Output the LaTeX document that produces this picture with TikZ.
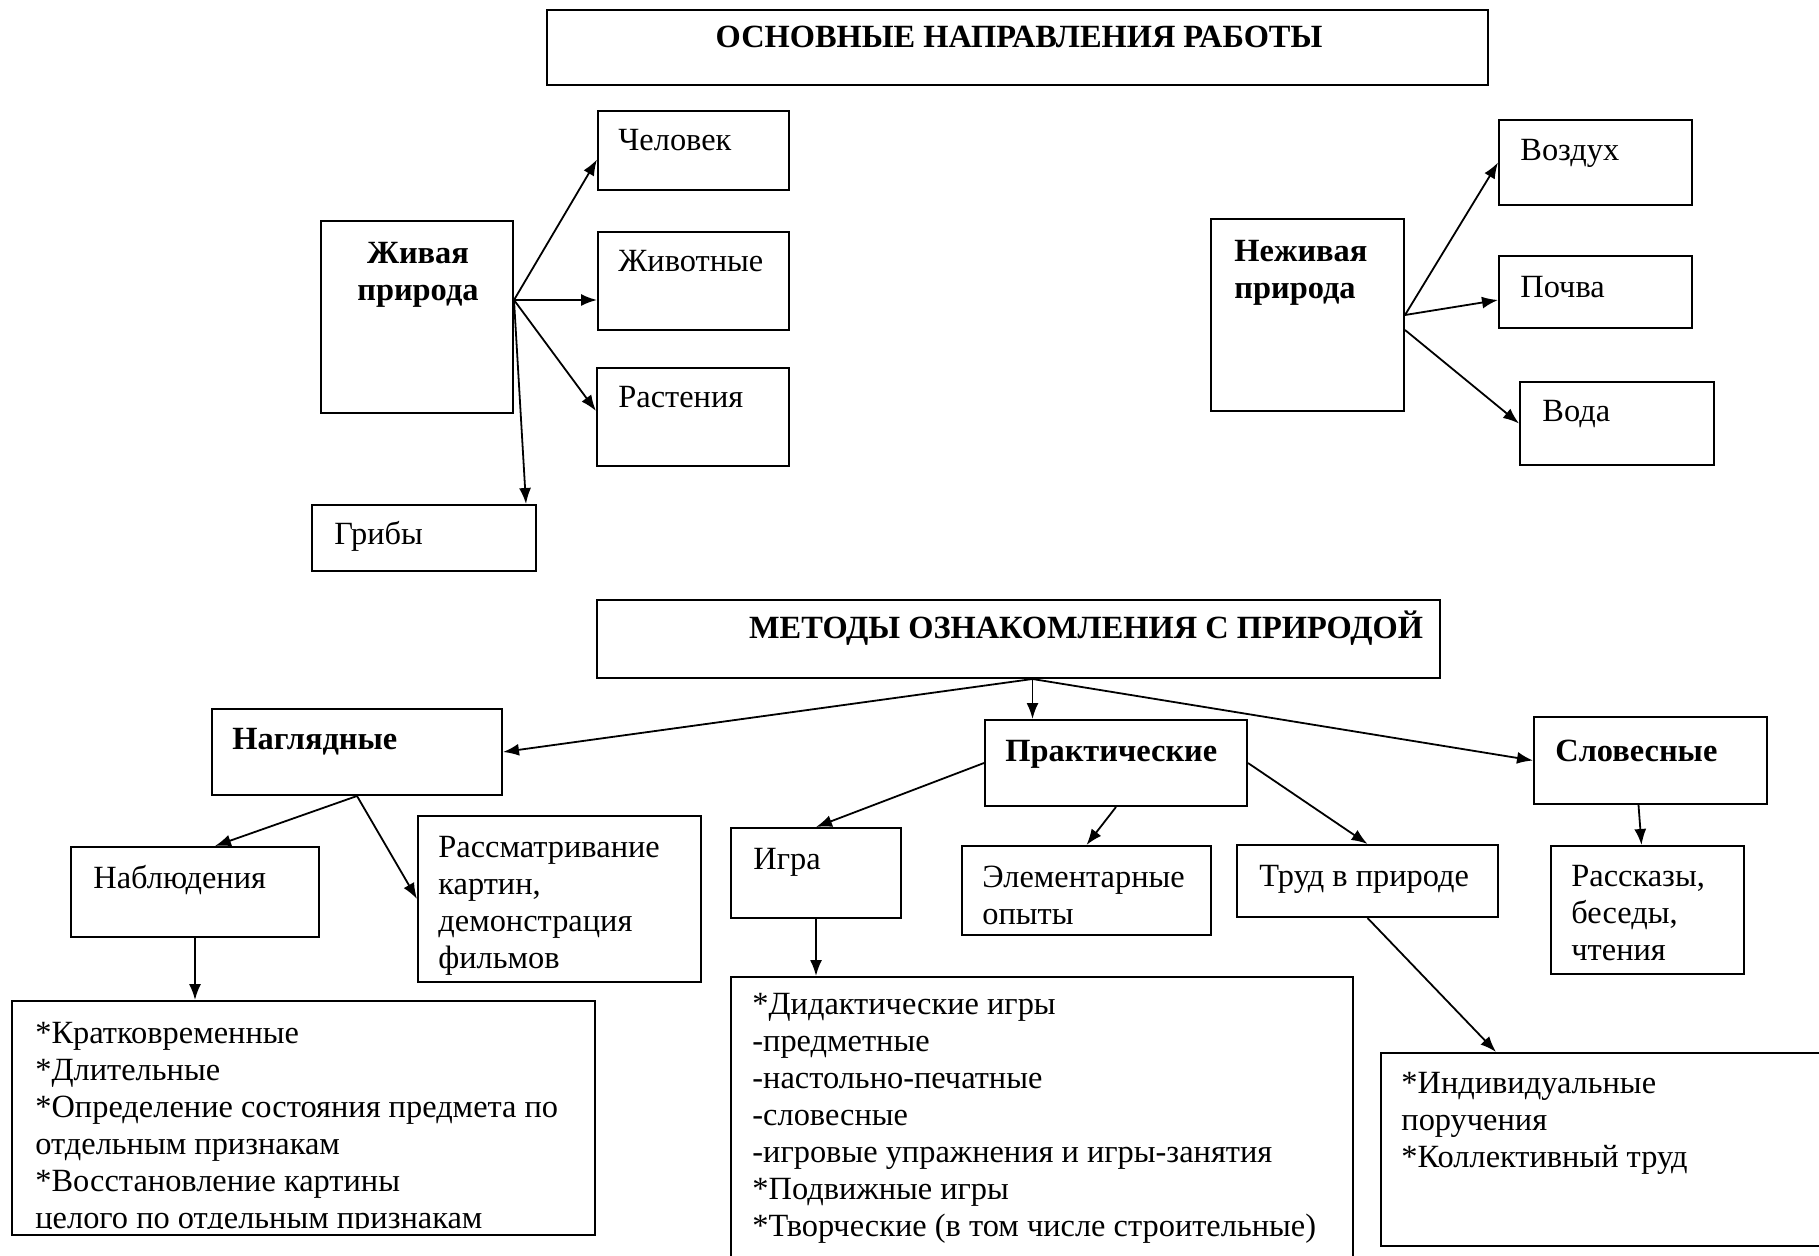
\documentclass[tikz,border=0pt]{standalone}
\usepackage{fontspec}
\setmainfont{Liberation Serif}
\usetikzlibrary{arrows.meta,fit,calc}

\tikzset{
  frame/.style={draw, line width=1pt, inner sep=0pt, fit={#1}},
  txt/.style={anchor=base west, align=left, inner sep=0pt,
    font=\fontsize{16.2}{18.5}\selectfont},
  head/.style={txt, font=\fontsize{16.2}{18.5}\selectfont\bfseries},
  arr/.style={-{Latex[length=8pt,width=6pt]}, line width=0.9pt}
}

\begin{document}
\begin{tikzpicture}[x=0.5pt, y=-0.5pt]
    \useasboundingbox (0,0) rectangle (1819,1256);
    \fill[white] (0,0) rectangle (1819,1256);
    \clip (0,0) rectangle (1819,1256);

    % Directions %
    \node[frame={(547,10) (1488,85)}] (osn) {};
    \node[head, anchor=base] (osn-t) at (1019,48) {ОСНОВНЫЕ НАПРАВЛЕНИЯ РАБОТЫ};

    \node[frame={(321,221) (513,413)}] (zhiv) {};
    \node[head, align=center, anchor=base] (zhiv-t) at (418,301) {Живая\\природа};
    \node[frame={(598,111) (789,190)}] (chel) {};
    \node[txt] (chel-t) at (618,151) {Человек};
    \node[frame={(598,232) (789,330)}] (zhivot) {};
    \node[txt] (zhivot-t) at (618,272) {Животные};
    \node[frame={(597,368) (789,466)}] (rast) {};
    \node[txt] (rast-t) at (618,408) {Растения};
    \node[frame={(312,505) (536,571)}] (griby) {};
    \node[txt] (griby-t) at (334,545) {Грибы};

    \node[frame={(1211,219) (1404,411)}] (nezhiv) {};
    \node[head] (nezhiv-t) at (1234,299) {Неживая\\природа};
    \node[frame={(1499,120) (1692,205)}] (vozduh) {};
    \node[txt] (vozduh-t) at (1520,161) {Воздух};
    \node[frame={(1499,256) (1692,328)}] (pochva) {};
    \node[txt] (pochva-t) at (1520,298) {Почва};
    \node[frame={(1520,382) (1714,465)}] (voda) {};
    \node[txt] (voda-t) at (1542,422) {Вода};

    \coordinate (zhivout) at ([yshift=8.5pt]zhiv.east);
    \draw[arr] (zhivout) -- ([yshift=-4.5pt]chel.west);
    \draw[arr] (zhivout) -- (zhivot.west |- zhivout);
    \draw[arr] (zhivout) -- ([yshift=3pt]rast.west);
    \draw[arr] (zhivout) -- ([xshift=-5.5pt]griby.north east);
    \draw[arr] (nezhiv.east) -- (vozduh.west);
    \draw[arr] (nezhiv.east) -- ([yshift=-4pt]pochva.west);
    \draw[arr] ([yshift=-7.5pt]nezhiv.east) -- (voda.west);

    % Methods %
    \node[frame={(597,600) (1440,678)}] (metody) {};
    \node[head, anchor=base] (metody-t) at (1086,638) {МЕТОДЫ ОЗНАКОМЛЕНИЯ С ПРИРОДОЙ};

    \node[frame={(212,709) (502,795)}] (naglyad) {};
    \node[head] (naglyad-t) at (232,749) {Наглядные};
    \node[frame={(985,720) (1247,806)}] (prakt) {};
    \node[head] (prakt-t) at (1005,761) {Практические};
    \node[frame={(1534,717) (1767,804)}] (slovesn) {};
    \node[head] (slovesn-t) at (1555,761) {Словесные};

    \node[frame={(71,847) (319,937)}] (nabl) {};
    \node[txt] (nabl-t) at (93,888) {Наблюдения};
    \node[frame={(418,816) (701,982)}] (rassm) {};
    \node[txt] (rassm-t) at (438,968) {Рассматривание\\картин,\\демонстрация\\фильмов};
    \node[frame={(12,1001) (595,1235)}] (kratko) {};
    \begin{scope}
        \clip (kratko.north west) rectangle ([yshift=4pt]kratko.south east);
        \node[txt] (kratko-t) at (35,1228) {*Кратковременные\\*Длительные\\*Определение состояния предмета по\\отдельным признакам\\*Восстановление картины\\целого по отдельным признакам};
    \end{scope}

    \node[frame={(731,828) (901,918)}] (igra) {};
    \node[txt] (igra-t) at (753,869) {Игра};
    \node[frame={(962,846) (1211,935)}] (element) {};
    \node[txt] (element-t) at (982,924) {Элементарные\\опыты};
    \node[frame={(1237,845) (1498,917)}] (trud) {};
    \node[txt] (trud-t) at (1259,886) {Труд в природе};
    \node[frame={(1551,846) (1744,974)}] (rasskaz) {};
    \node[txt] (rasskaz-t) at (1571,960) {Рассказы,\\беседы,\\чтения};
    \node[frame={(731,977) (1353,1300)}] (didakt) {};
    \node[txt] (didakt-t) at (752,1236) {*Дидактические игры\\-предметные\\-настольно-печатные\\-словесные\\-игровые упражнения и игры-занятия\\*Подвижные игры\\*Творческие (в том числе строительные)};
    \node[frame={(1381,1053) (1900,1246)}] (indiv) {};
    \node[txt] (indiv-t) at (1401,1167) {*Индивидуальные\\поручения\\*Коллективный труд};

    \coordinate (metout) at ([xshift=7pt]metody.south);
    \draw[arr] (metout) -- (naglyad.east);
    \draw[arr] (metout) -- (metout |- prakt.north);
    \draw[arr] (metout) -- (slovesn.west);
    \draw[arr] (naglyad.south) -- ([xshift=10pt]nabl.north);
    \draw[arr] (naglyad.south) -- (rassm.west);
    \draw[arr] (nabl.south) -- (nabl.south |- kratko.north);
    \draw[arr] (prakt.west) -- (igra.north);
    \draw[arr] (prakt.south) -- (element.north);
    \draw[arr] (prakt.east) -- (trud.north);
    \draw[arr] ([xshift=-6pt]slovesn.south) -- ([xshift=-3pt]rasskaz.north);
    \draw[arr] (igra.south) -- (igra.south |- didakt.north);
    \draw[arr] (trud.south) -- ([xshift=58pt]indiv.north west);
\end{tikzpicture}
\end{document}
